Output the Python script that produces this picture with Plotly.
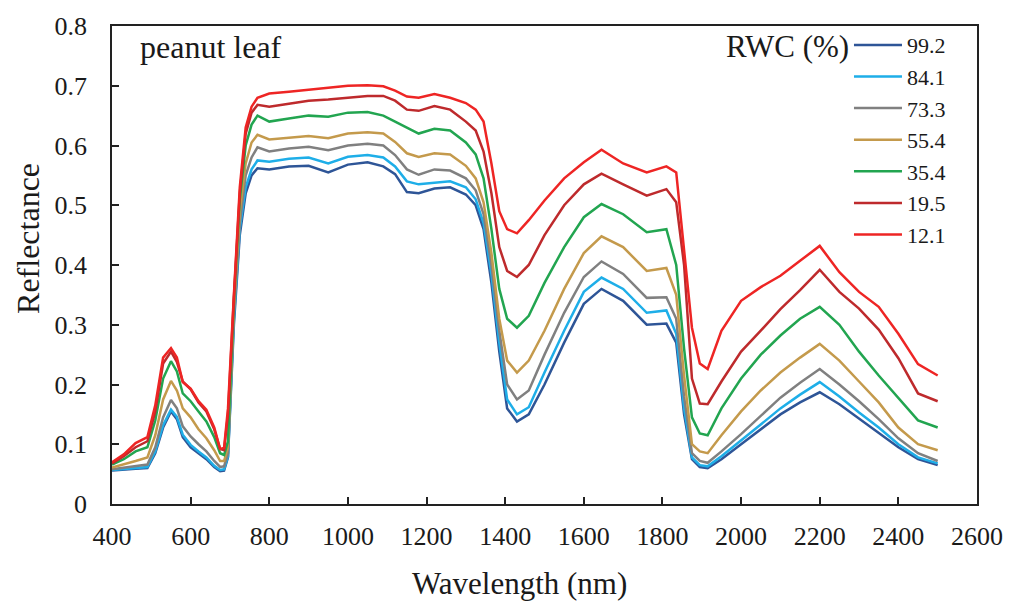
import plotly.graph_objects as go

wavelength = [400, 430, 460, 490, 510, 530, 550, 565, 580, 600, 620, 640, 660, 675, 685, 695,
              710, 725, 740, 755, 770, 800, 850, 900, 950, 1000, 1050, 1090, 1120, 1150, 1180,
              1220, 1260, 1300, 1325, 1345, 1365, 1385, 1405, 1430, 1460, 1500, 1550, 1600, 1645,
              1700, 1760, 1810, 1835, 1855, 1875, 1895, 1915, 1950, 2000, 2050, 2100, 2150, 2200,
              2250, 2300, 2350, 2400, 2450, 2500]

rwc_labels = ["99.2", "84.1", "73.3", "55.4", "35.4", "19.5", "12.1"]

refl_99_2 = [.056, .058, .059, .060, .085, .128, .155, .142, .112, .095, .085, .075, .062, .055, .056, .078,
             .300, .450, .520, .550, .562, .560, .565, .566, .555, .568, .572, .565, .552, .522, .520,
             .528, .530, .518, .500, .460, .370, .255, .160, .138, .150, .200, .270, .335, .360,
             .340, .300, .302, .270, .150, .075, .062, .060, .075, .100, .125, .150, .170, .187,
             .167, .143, .120, .095, .075, .065]
refl_84_1 = [.057, .059, .060, .062, .088, .132, .158, .146, .116, .099, .088, .078, .064, .057, .058, .080,
             .310, .460, .530, .560, .575, .573, .578, .580, .570, .581, .584, .580, .565, .540, .535,
             .537, .540, .530, .510, .470, .385, .270, .175, .150, .162, .220, .290, .355, .379,
             .360, .320, .324, .285, .160, .078, .065, .063, .080, .106, .133, .160, .183, .204,
             .180, .153, .128, .100, .078, .068]
refl_73_3 = [.058, .061, .063, .066, .095, .145, .174, .160, .130, .113, .100, .088, .072, .062, .063, .085,
             .320, .470, .550, .580, .597, .590, .595, .598, .592, .600, .603, .600, .584, .560, .551,
             .560, .558, .545, .525, .485, .400, .290, .200, .175, .190, .250, .320, .380, .406,
             .385, .345, .346, .310, .180, .085, .072, .069, .088, .117, .148, .178, .203, .226,
             .200, .172, .142, .110, .085, .072]
refl_55_4 = [.061, .066, .072, .078, .115, .175, .206, .190, .160, .145, .125, .110, .090, .072, .072, .095,
             .330, .490, .570, .605, .618, .610, .613, .616, .612, .620, .622, .620, .606, .587, .581,
             .587, .585, .566, .545, .505, .420, .310, .240, .220, .240, .290, .360, .420, .448,
             .430, .390, .395, .350, .215, .100, .088, .085, .115, .155, .190, .220, .245, .268,
             .240, .205, .170, .128, .100, .090]
refl_35_4 = [.066, .075, .088, .095, .140, .210, .239, .222, .185, .172, .155, .138, .112, .085, .082, .105,
             .340, .510, .600, .635, .650, .640, .645, .650, .648, .655, .656, .650, .640, .630, .620,
             .628, .625, .605, .585, .545, .460, .360, .310, .295, .315, .370, .430, .480, .502,
             .485, .455, .460, .400, .260, .145, .118, .115, .160, .210, .250, .282, .310, .330,
             .300, .255, .215, .177, .140, .128]
refl_19_5 = [.068, .080, .095, .105, .155, .235, .255, .238, .205, .192, .170, .155, .125, .092, .090, .150,
             .345, .520, .620, .655, .668, .665, .670, .675, .677, .680, .683, .683, .675, .660, .658,
             .666, .660, .640, .625, .590, .520, .430, .390, .380, .400, .450, .500, .535, .553,
             .535, .516, .527, .505, .400, .210, .168, .167, .205, .255, .290, .326, .358, .392,
             .355, .327, .292, .244, .185, .172]
refl_12_1 = [.070, .083, .102, .112, .165, .245, .261, .245, .204, .193, .172, .158, .128, .092, .094, .160,
             .350, .530, .630, .665, .680, .687, .690, .693, .697, .700, .701, .699, .692, .682, .680,
             .686, .680, .671, .660, .640, .570, .490, .460, .453, .475, .508, .545, .572, .593,
             .570, .555, .565, .555, .430, .295, .235, .226, .290, .340, .363, .382, .407, .432,
             .388, .355, .330, .285, .234, .215]

series = [refl_99_2, refl_84_1, refl_73_3, refl_55_4, refl_35_4, refl_19_5, refl_12_1]
colors = ["#2e5597", "#1eaee8", "#808080", "#c49a4c", "#22a550", "#be2a2c", "#ee2524"]

FONT = "'Liberation Serif', 'Times New Roman', serif"

fig = go.Figure()
for lab, vals, col in zip(rwc_labels, series, colors):
    fig.add_trace(go.Scatter(x=wavelength, y=vals, mode="lines", name=lab,
                             line=dict(color=col, width=2.5)))

fig.update_layout(
    width=1015, height=603,
    margin=dict(l=112, r=37, t=17, b=99),
    paper_bgcolor="white", plot_bgcolor="white",
    font=dict(family=FONT, color="#1a1a1a", size=26),
    showlegend=True,
    legend=dict(x=0.852, y=1.004, xanchor="left", yanchor="top",
                bgcolor="rgba(0,0,0,0)", font=dict(size=22, family=FONT),
                itemwidth=48, tracegroupgap=0),
    xaxis=dict(range=[400, 2600], tickvals=list(range(400, 2601, 200)),
               showgrid=False, zeroline=False, showline=True, linecolor="#222",
               linewidth=1.5, mirror=True, ticks="inside", ticklen=7, tickwidth=1.5,
               tickcolor="#222", tickfont=dict(size=26, family=FONT), ticklabelstandoff=8),
    yaxis=dict(range=[0, 0.8], tickvals=[0, 0.1, 0.2, 0.3, 0.4, 0.5, 0.6, 0.7, 0.8],
               ticktext=["0", "0.1", "0.2", "0.3", "0.4", "0.5", "0.6", "0.7", "0.8"],
               showgrid=False, zeroline=False, showline=True, linecolor="#222",
               linewidth=1.5, mirror=True, ticks="inside", ticklen=7, tickwidth=1.5,
               tickcolor="#222", tickfont=dict(size=26, family=FONT), ticklabelstandoff=18),
    annotations=[
        dict(text="Wavelength (nm)", xref="paper", yref="paper", x=0.471, y=-0.166,
             xanchor="center", yanchor="middle", showarrow=False, font=dict(size=31, family=FONT)),
        dict(text="Reflectance", xref="paper", yref="paper", x=-0.098, y=0.555,
             xanchor="center", yanchor="middle", textangle=-90, showarrow=False,
             font=dict(size=32, family=FONT)),
        dict(text="peanut leaf", xref="paper", yref="paper", x=0.030, y=0.957,
             xanchor="left", yanchor="middle", showarrow=False, font=dict(size=32, family=FONT)),
        dict(text="RWC (%)", xref="paper", yref="paper", x=0.854, y=0.957,
             xanchor="right", yanchor="middle", showarrow=False, font=dict(size=31, family=FONT)),
    ],
)

fig.write_html("out.html")
